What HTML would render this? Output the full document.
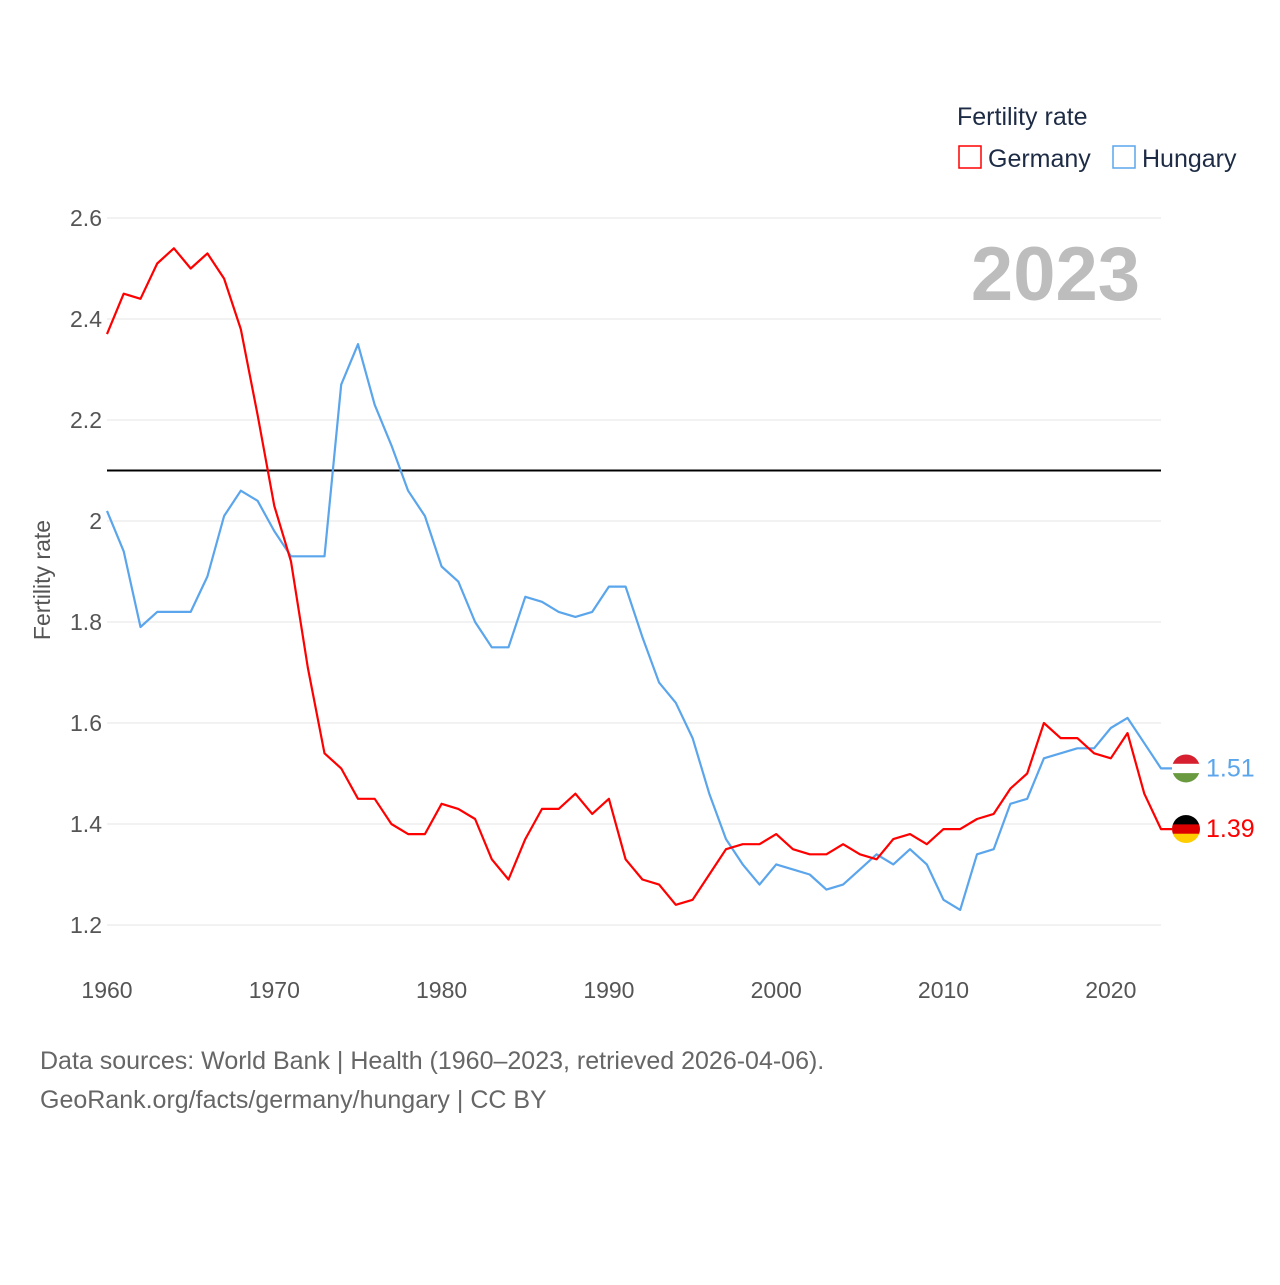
<!DOCTYPE html>
<html><head><meta charset="utf-8">
<style>
html,body{margin:0;padding:0;background:#fff;}
body{width:1280px;height:1280px;overflow:hidden;font-family:"Liberation Sans",sans-serif;}
</style></head>
<body>
<svg id="chart" width="1280" height="1280" xmlns="http://www.w3.org/2000/svg" font-family="Liberation Sans, sans-serif">
  <text x="957" y="125" font-size="25" fill="#1d2b45">Fertility rate</text>
  <g>
    <rect x="959" y="146" width="22" height="22" fill="none" stroke="#ff0000" stroke-width="1.5"/>
    <text x="988" y="167" font-size="25" fill="#1d2b45">Germany</text>
  </g>
  <g>
    <rect x="1113" y="146" width="22" height="22" fill="none" stroke="#5aa5eb" stroke-width="1.5"/>
    <text x="1142" y="167" font-size="25" fill="#1d2b45">Hungary</text>
  </g>
  <text x="1140" y="300" text-anchor="end" font-size="76" font-weight="bold" fill="#bdbdbd">2023</text>
  <g id="grid"></g>
  <g id="yticks"></g>
  <g id="xticks"></g>
  <text transform="translate(50,580) rotate(-90)" text-anchor="middle" font-size="23" fill="#555">Fertility rate</text>
  <g id="series"></g>
  <g id="ends"></g>
  <text x="40" y="1069" font-size="25" fill="#666">Data sources: World Bank | Health (1960–2023, retrieved 2026-04-06).</text>
  <text x="40" y="1108" font-size="25" fill="#666">GeoRank.org/facts/germany/hungary | CC BY</text>
</svg>
<script>
const years = Array.from({length:64},(_, i)=>1960+i);
const germany = [2.37,2.45,2.44,2.51,2.54,2.50,2.53,2.48,2.38,2.21,2.03,1.92,1.71,1.54,1.51,1.45,1.45,1.40,1.38,1.38,1.44,1.43,1.41,1.33,1.29,1.37,1.43,1.43,1.46,1.42,1.45,1.33,1.29,1.28,1.24,1.25,1.30,1.35,1.36,1.36,1.38,1.35,1.34,1.34,1.36,1.34,1.33,1.37,1.38,1.36,1.39,1.39,1.41,1.42,1.47,1.50,1.60,1.57,1.57,1.54,1.53,1.58,1.46,1.39];
const hungary = [2.02,1.94,1.79,1.82,1.82,1.82,1.89,2.01,2.06,2.04,1.98,1.93,1.93,1.93,2.27,2.35,2.23,2.15,2.06,2.01,1.91,1.88,1.80,1.75,1.75,1.85,1.84,1.82,1.81,1.82,1.87,1.87,1.77,1.68,1.64,1.57,1.46,1.37,1.32,1.28,1.32,1.31,1.30,1.27,1.28,1.31,1.34,1.32,1.35,1.32,1.25,1.23,1.34,1.35,1.44,1.45,1.53,1.54,1.55,1.55,1.59,1.61,1.56,1.51];
const yTicks = [1.2,1.4,1.6,1.8,2,2.2,2.4,2.6];
const xTicks = [1960,1970,1980,1990,2000,2010,2020];
const replacementRate = [2.1];

const NS="http://www.w3.org/2000/svg";
const X0=107, X1=1161, Y0=925, Y1=218;
const xs = y => X0 + (y-1960)*(X1-X0)/63;
const ys = v => Y0 - (v-1.2)*(Y0-Y1)/1.4;
function mk(tag, attrs, parent){const e=document.createElementNS(NS,tag);for(const k in attrs)e.setAttribute(k,attrs[k]);parent.appendChild(e);return e;}

const grid=document.getElementById('grid'), yt=document.getElementById('yticks'), xt=document.getElementById('xticks');
yTicks.forEach(v=>{
  const l=mk('line',{x1:X0,x2:X1,y1:ys(v),y2:ys(v),stroke:'#e6e6e6','stroke-width':1},grid);
  
  
  const t=mk('text',{x:102,y:ys(v)+8,'text-anchor':'end','font-size':23,fill:'#555'},yt);
  t.textContent=String(v);
  
  
});
xTicks.forEach(v=>{
  const t=mk('text',{x:xs(v),y:998,'text-anchor':'middle','font-size':23,fill:'#555'},xt);
  t.textContent=String(v);
  
  
});
const series=document.getElementById('series');
replacementRate.forEach(v=>{
  const l=mk('line',{x1:X0,x2:X1,y1:ys(v),y2:ys(v),stroke:'#000','stroke-width':2},series);
  
  
});
function line(vals,color,name){
  let d=vals.map((v,i)=>(i?'L':'M')+xs(years[i]).toFixed(1)+','+ys(v).toFixed(1)).join('');
  d+='L1172,'+ys(vals[vals.length-1]).toFixed(1);
  const p=mk('path',{d:d,fill:'none',stroke:color,'stroke-width':2.2,'stroke-linejoin':'round'},series);
  
  
}
line(hungary,'#5aa5eb','hungary-line');
line(germany,'#ff0000','germany-line');

const ends=document.getElementById('ends');
function flag(cy,colors,name){
  const g=mk('g',{},ends);
  
  
  const id='c'+name;
  const cp=mk('clipPath',{id:id},g); mk('circle',{cx:1186,cy:cy,r:14},cp);
  colors.forEach((c,i)=>mk('rect',{x:1172,y:cy-14+i*28/3,width:28,height:28/3+0.5,fill:c,'clip-path':'url(#'+id+')'},g));
}
const hy=ys(hungary[hungary.length-1]), gy=ys(germany[germany.length-1]);
flag(hy,['#d6202f','#ffffff','#6a9a3f'],'hungary-flag');
flag(gy,['#000000','#dd0000','#ffce00'],'germany-flag');
const t1=mk('text',{x:1206,y:hy+8,'font-size':25,fill:'#5aa5eb'},ends);
t1.textContent=hungary[hungary.length-1].toFixed(2);


const t2=mk('text',{x:1206,y:gy+8,'font-size':25,fill:'#ff0000'},ends);
t2.textContent=germany[germany.length-1].toFixed(2);


</script>
</body></html>
